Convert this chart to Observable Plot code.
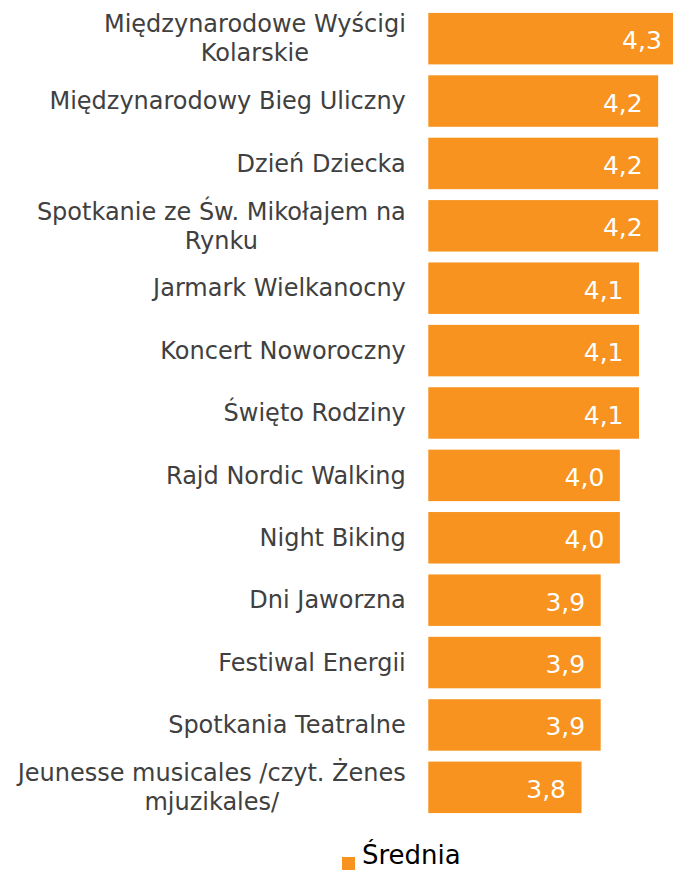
<!DOCTYPE html>
<html>
<head>
<meta charset="utf-8">
<script src="https://cdn.jsdelivr.net/npm/d3@7"></script>
<script src="https://cdn.jsdelivr.net/npm/@observablehq/plot@0.6"></script>
<style>
  html, body { margin: 0; padding: 0; background: #fff; overflow: hidden; width: 673px; height: 875px; }
  #chart svg { display: block; overflow: hidden; }
  .legend { position: relative; height: 35px; font-family: "DejaVu Sans", Verdana, sans-serif; font-size: 26px; color: #000; }
  .legend .sw { position: absolute; left: 342px; top: 17px; width: 13px; height: 13px; background: #F7931E; }
  .legend .lb { position: absolute; left: 362px; top: 0px; line-height: 30px; }
</style>
</head>
<body>
<div id="chart"></div>
<div class="legend"><span class="sw"></span><span class="lb">Średnia</span></div>
<script>
const categories = [
  "Międzynarodowe Wyścigi\nKolarskie",
  "Międzynarodowy Bieg Uliczny",
  "Dzień Dziecka",
  "Spotkanie ze Św. Mikołajem na\nRynku",
  "Jarmark Wielkanocny",
  "Koncert Noworoczny",
  "Święto Rodziny",
  "Rajd Nordic Walking",
  "Night Biking",
  "Dni Jaworzna",
  "Festiwal Energii",
  "Spotkania Teatralne",
  "Jeunesse musicales /czyt. Żenes\nmjuzikales/"
];
const values = [4.3, 4.2, 4.2, 4.2, 4.1, 4.1, 4.1, 4.0, 4.0, 3.9, 3.9, 3.9, 3.8];
const seriesName = "Średnia";
const baseline = 3.0;
const axisMax = 4.3;

const data = categories.map((c, i) => ({cat: c, value: values[i]}));

const FONT = '"DejaVu Sans", Verdana, sans-serif';
const labelSize = 24;
const lineHeight = 29;
const ctx = document.createElement("canvas").getContext("2d");
ctx.font = `${labelSize}px "DejaVu Sans"`;

const labelMarks = [];
data.forEach(d => {
  const lines = d.cat.split("\n");
  const widths = lines.map(l => ctx.measureText(l).width);
  const maxW = Math.max(...widths);
  lines.forEach((l, j) => {
    labelMarks.push(Plot.text([d], {
      x: () => baseline,
      y: "cat",
      text: () => l,
      textAnchor: "end",
      dx: -23 - (maxW - widths[j]) / 2,
      dy: (j - (lines.length - 1) / 2) * lineHeight,
      fill: "#404040",
      fontSize: labelSize,
      fontFamily: FONT
    }));
  });
});

const chart = Plot.plot({
  width: 673,
  height: 840,
  marginTop: 2,
  marginBottom: 16,
  marginLeft: 428,
  marginRight: 0,
  style: {fontFamily: FONT, background: "#fff"},
  x: {domain: [baseline, axisMax], range: [428.3, 677.3], axis: null},
  y: {domain: categories, padding: 0.175, round: false, range: [2, 824], axis: null},
  marks: [
    Plot.barX(data, {y: "cat", x1: () => baseline, x2: "value", fill: "#F7931E"}),
    Plot.text(data, {
      y: "cat", x: "value",
      text: d => d.value.toFixed(1).replace(".", ","),
      textAnchor: "end", dx: -16, dy: 2,
      fill: "#fff", fontSize: 25, fontFamily: FONT
    }),
    ...labelMarks
  ]
});
document.getElementById("chart").appendChild(chart);
</script>
</body>
</html>
